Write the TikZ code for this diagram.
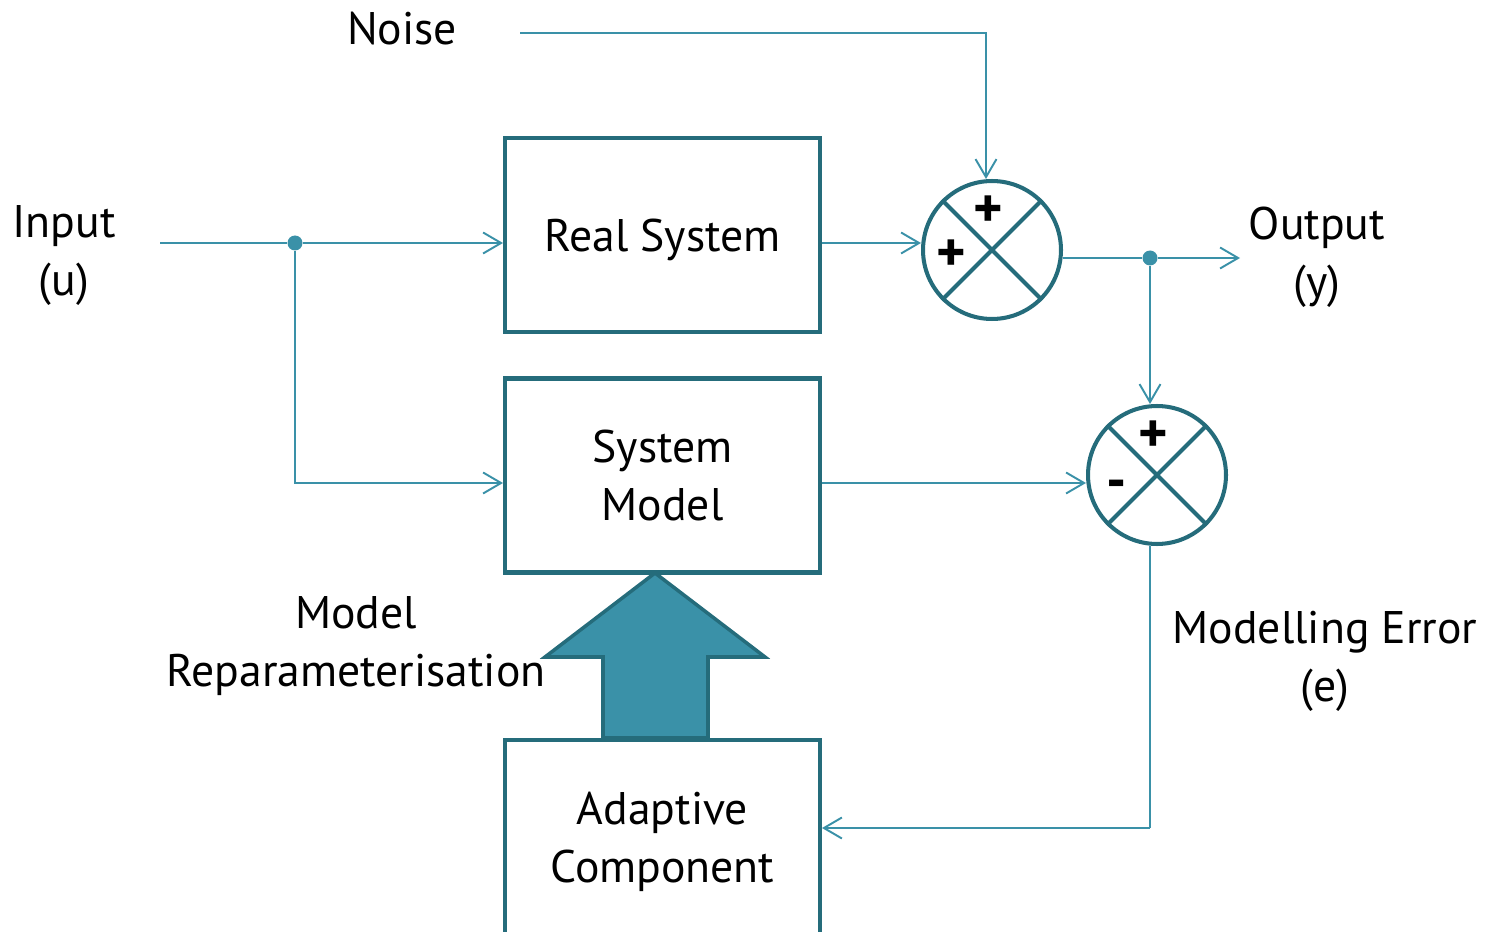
\documentclass[tikz,border=0pt]{standalone}
\usepackage{fontspec}
\setmainfont{PT Sans}
\usetikzlibrary{arrows.meta}
\definecolor{boxteal}{HTML}{256C7B}
\definecolor{lineteal}{HTML}{3A91A8}

\begin{document}
\begin{tikzpicture}
	[x=0.02cm,y=-0.02cm,font=\fontsize{26}{33}\selectfont,
	 blk/.style={draw=boxteal,line width=2.3pt,minimum width=6.3cm,minimum height=3.88cm,align=center,text depth=0pt},
	 sumj/.style={circle,draw=boxteal,line width=2.3pt,minimum size=2.76cm,inner sep=0pt},
	 sig/.style={draw=lineteal,line width=1.1pt,-{Straight Barb[length=0.36cm,width=0.42cm]}},
	 wire/.style={draw=lineteal,line width=1.1pt},
	 lbl/.style={align=center,inner sep=0pt},
	 sgn/.style={inner sep=0pt,font=\fontsize{32}{32}\selectfont\bfseries},
	 dot/.style={circle,fill=lineteal,inner sep=0pt,minimum size=0.3cm}]
	\useasboundingbox (0,0) rectangle (1495,932);

	\node (rs)[blk] at (662.5,235) {Real System};
	\node (sm)[blk] at (662.5,475.5) {System\\Model};
	\node (ac)[blk] at (662.5,837) {Adaptive\\Component};

	\draw[boxteal,fill=lineteal,line width=2pt] (655,573) -- (765,657) -- (708,657) -- (708,738)
		-- (603,738) -- (603,657) -- (545,657) -- cycle;

	\node (s1)[sumj] at (992,250) {};
	\node (s2)[sumj] at (1157,475) {};
	\foreach \s in {s1,s2}
	\draw[boxteal,line width=2.3pt] (\s.north west) -- (\s.south east) (\s.north east) -- (\s.south west);
	\node (p1)[sgn] at (988,212) {+};
	\node (p2)[sgn] at (951,256) {+};
	\node (p3)[sgn] at (1153,437) {+};
	\node (m1)[sgn] at (1117,490) {-};

	\node (noise)[lbl] at (402,29) {Noise};
	\node (inp)[lbl] at (64,256) {Input\\(u)};
	\node (outp)[lbl] at (1317,257) {Output\\(y)};
	\node (mrep)[lbl] at (356,646) {Model\\Reparameterisation};
	\node (merr)[lbl] at (1325,661) {Modelling Error\\(e)};

	\coordinate (uin) at (160,243);
	\node (d1)[dot] at (295,243) {};
	\coordinate (nz) at (520,33);
	\node (d2)[dot] at (1150,258) {};
	\coordinate (yout) at (1240,258);
	\coordinate (e1) at (1150,828);

	\draw[wire] (uin) -- (d1);
	\draw[sig] (d1) -- (d1 -| rs.west);
	\draw[sig] (d1) |- ([yshift=-0.15cm]sm.west);
	\draw[sig] ([yshift=-0.16cm]rs.east) -- ([yshift=-0.16cm]rs.east -| s1.west);
	\draw[sig] (nz) -| ([xshift=-0.12cm]s1.north);
	\draw[wire] (s1.east |- d2) -- (d2);
	\draw[sig] (d2) -- (yout);
	\draw[sig] (d2) -- (d2 |- s2.north);
	\draw[sig] ([yshift=-0.15cm]sm.east) -- ([yshift=-0.15cm]sm.east -| s2.west);
	\draw[wire] (s2.south -| d2) -- (e1);
	\draw[sig] (e1) -- (e1 -| ac.east);

\end{tikzpicture}
\end{document}
